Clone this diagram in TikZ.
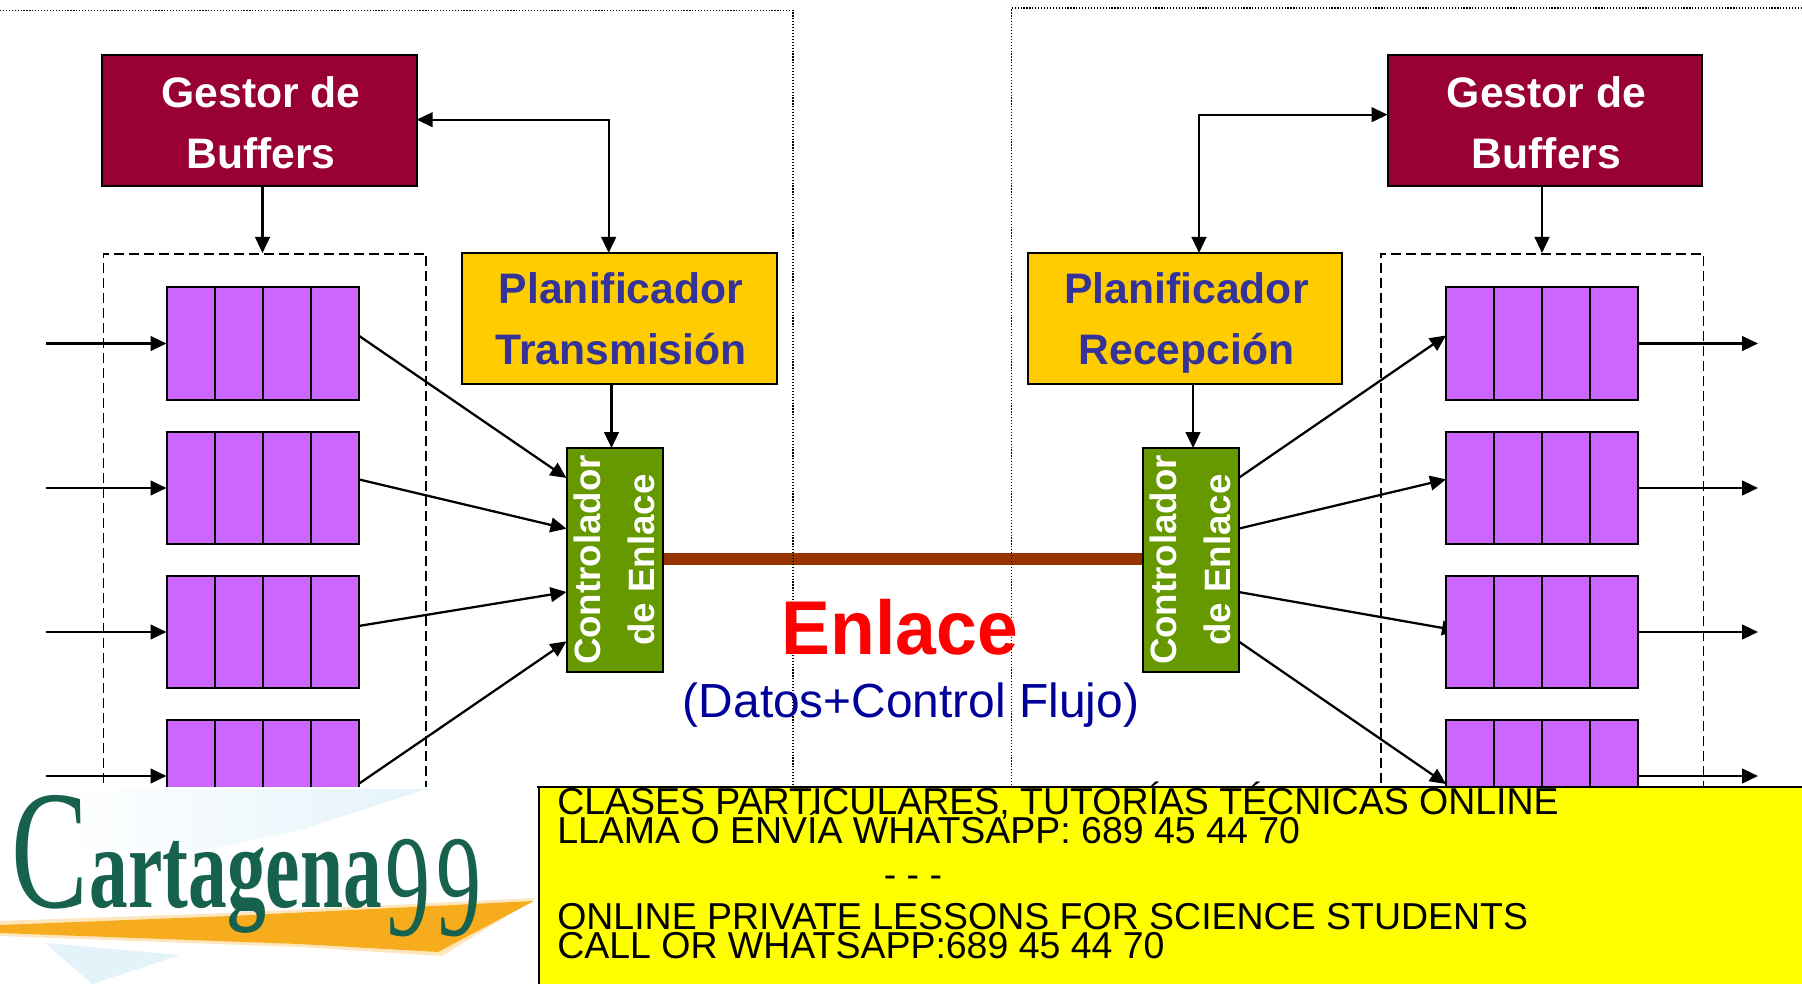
\documentclass[tikz,border=0pt]{standalone}
\usepackage{fontspec}
\setmainfont{Liberation Sans}
\newfontfamily\logofont{Liberation Serif}
\usetikzlibrary{arrows.meta,calc}
\pgfdeclarelayer{behind}
\pgfsetlayers{behind,main}
\newcommand{\nudgetext}{\hspace*{2.5pt}}
\definecolor{queuecol}{HTML}{CC66FF}
\definecolor{gestorcol}{HTML}{990033}
\definecolor{plancol}{HTML}{FFCC00}
\definecolor{ctrlcol}{HTML}{669900}
\definecolor{linkcol}{HTML}{993300}
\definecolor{plantext}{HTML}{333399}
\definecolor{subcol}{HTML}{000099}
\definecolor{logoteal}{HTML}{17614F}
\definecolor{logoorange}{HTML}{F7AC1E}
\definecolor{logoedge}{HTML}{FDE6BC}
\definecolor{logoblue}{HTML}{E4F3FA}
\definecolor{bannercol}{RGB}{255,255,0}
\definecolor{enlacecol}{RGB}{255,0,0}
\tikzset{
  x=0.75pt,y=-0.75pt,
  base/.style={draw=black,line width=1.5pt,inner sep=0pt,outer sep=0pt,anchor=north west},
  gestor/.style={base,fill=gestorcol,minimum width=236pt,minimum height=98.25pt,text=white,
    font=\fontsize{32}{45.7}\selectfont\bfseries,align=center},
  plan/.style={base,fill=plancol,minimum width=236pt,minimum height=98.25pt,text=plantext,
    font=\fontsize{32}{45.7}\selectfont\bfseries,align=center},
  ctrl/.style={base,fill=ctrlcol,minimum width=72pt,minimum height=168pt},
  ctrltext/.style={text=white,font=\fontsize{27.5}{41}\selectfont\bfseries,align=center,rotate=90,inner sep=0pt},
  queue/.style={base,fill=queuecol,minimum width=144pt,minimum height=84pt,
    path picture={\foreach \f in {.25,.5,.75}
      \draw[line width=1.5pt] ($(path picture bounding box.south west)!\f!(path picture bounding box.south east)$)
        -- ($(path picture bounding box.north west)!\f!(path picture bounding box.north east)$);}},
  dashbox/.style={draw=black,line width=1.2pt,dash pattern=on 7.5pt off 3.75pt,inner sep=0pt,anchor=north west,
    minimum width=242pt,minimum height=420pt},
  dotline/.style={draw=black,line width=0.8pt,dash pattern=on 0.9pt off 1.3pt},
  arr/.style={draw=black,line width=1.7pt,-{Triangle[length=12pt,width=11pt]}},
  twoway/.style={draw=black,line width=1.7pt,{Triangle[length=12pt,width=11pt]}-{Triangle[length=12pt,width=11pt]}},
  bann/.style={inner sep=0pt,anchor=base west,font=\fontsize{28.1}{28}\selectfont},
}
\begin{document}
\begin{tikzpicture}
\useasboundingbox (0,0) rectangle (1802,984);
% panels
\coordinate (pl0) at (0,10.5);
\coordinate (pl1) at (793,10.5);
\coordinate (pl2) at (793,800);
\coordinate (pr0) at (1802,8);
\coordinate (pr1) at (1011.5,8);
\coordinate (pr2) at (1011.5,800);
% dashed groups
\node[dashbox] (dl) at (102.5,253) {};
\node[dashbox] (dr) at (1380,253) {};
% boxes
\node[gestor] (gl) at (102,55.5) {\nudgetext\rule{0pt}{26.5pt}Gestor de\\\nudgetext Buffers};
\node[gestor] (gr) at (1387.5,55.5) {\nudgetext\rule{0pt}{26.5pt}Gestor de\\\nudgetext Buffers};
\node[plan] (pt) at (462,253) {\nudgetext Planificador\\\nudgetext Transmisión};
\node[plan] (pr) at (1027.5,253) {\nudgetext Planificador\\\nudgetext\smash{Recepción}};
\node[ctrl] (cl) at (566.5,448) {};
\node[ctrl] (cr) at (1142.5,448) {};
\node[ctrltext] (clt) at (cl.center) {Controlador\\de Enlace};
\node[ctrltext] (crt) at (cr.center) {Controlador\\de Enlace};
% queues
\node[queue] (l1) at (166.5,287.5) {};
\node[queue] (l2) at (166.5,432) {};
\node[queue] (l3) at (166.5,576) {};
\node[queue] (l4) at (166.5,720) {};
\node[queue] (r1) at (1446,287.5) {};
\node[queue] (r2) at (1446,432) {};
\node[queue] (r3) at (1446,576) {};
\node[queue] (r4) at (1446,720) {};
% free ends
\foreach \n/\yy in {1/343.5,2/488,3/632,4/776}{
  \coordinate (in\n) at (46,\yy);
  \coordinate (out\n) at (1758,\yy);
}
\begin{pgfonlayer}{behind}
  \fill[white] (0,0) rectangle (1802,984);
  \draw[line width=9pt,linkcol,line cap=butt] (cl.east|-0,558.5) -- (cr.west|-0,558.5);
  \draw[dotline] (pl0) -- (pl1) -- (pl2);
  \draw[dotline] (pr0) -- (pr1) -- (pr2);
  \draw[arr] ([yshift=-24pt]cr.east) -- ([xshift=9pt,yshift=1pt]r3.west);
\end{pgfonlayer}
% link text
\node[inner sep=0pt,anchor=base,text=enlacecol,font=\fontsize{55}{55}\selectfont\bfseries] (enl) at (900,654) {\scalebox{1}[1.04]{Enlace}};
\node[inner sep=0pt,anchor=base,text=subcol,font=\fontsize{35.9}{40}\selectfont] (dat) at (911,717) {(Datos+Control Flujo)};
% connectors
\draw[arr] (gl.south-|l1.north) -- (dl.north-|l1.north);
\draw[arr] (gr.south-|r1.north) -- (dr.north-|r1.north);
\draw[twoway] ([yshift=1pt]gl.east) -| ([xshift=-8pt]pt.north);
\draw[twoway] (pr.north-|1199,0) |- ([yshift=4.75pt]gr.west);
\draw[arr] (pt.south-|611.5,0) -- (cl.north-|611.5,0);
\draw[arr] (pr.south-|1193,0) -- (cr.north-|1193,0);
\foreach \n in {1,2,3,4}{
  \draw[arr] (in\n) -- (in\n-|l\n.west);
  \draw[arr] (out\n-|r\n.east) -- (out\n);
}
\draw[arr] ([yshift=6pt]l1.east) -- ([yshift=61.5pt]cl.west);
\draw[arr] ([yshift=6.5pt]l2.east) -- ([yshift=23.5pt]cl.west);
\draw[arr] ([yshift=4.5pt]l3.east) -- ([yshift=-24pt]cl.west);
\draw[arr] ([yshift=-6pt]l4.east) -- ([yshift=-61pt]cl.west);
\draw[arr] ([yshift=61.5pt]cr.east) -- ([yshift=6pt]r1.west);
\draw[arr] ([yshift=23.5pt]cr.east) -- ([yshift=6.5pt]r2.west);
\draw[arr] ([yshift=-61pt]cr.east) -- ([yshift=-6pt]r4.west);
% logo
\fill[white] (0,787) rectangle (539,984);
\shade[left color=white,right color=logoblue,shading angle=90] (60,789) -- (427,789) -- (300,830) -- (205,850) -- (60,850) -- cycle;
\fill[logoblue] (45,943) -- (92,984) -- (180,955) -- cycle;
\fill[logoedge] (0,921) -- (230,913) -- (536,898) -- (442,956) -- (300,947) -- (0,936) -- cycle;
\fill[logoorange] (0,925) -- (230,916) -- (534,901) -- (438,952) -- (300,944) -- (0,933) -- cycle;
\node[inner sep=0pt,anchor=base west,text=logoteal,font=\logofont] (logo) at (11,907)
 {\fontsize{127}{127}\selectfont\scalebox{.68}[1]{C}\hspace{1pt}{\bfseries\fontsize{88}{88}\selectfont\scalebox{.66}[1]{artagena}}\hspace{3pt}\fontsize{109}{109}\selectfont\raisebox{-21pt}{\scalebox{.62}[1]{9}}\hspace{4pt}\raisebox{-21pt}{\scalebox{.62}[1]{9}}};
% banner
\fill[bannercol] (539,787) rectangle (1802,984);
\draw[black,line width=1.5pt] (537,787) -- (1802,787);
\draw[black,line width=0.8pt] (539,787) -- (539,984);
\node[bann] (b1) at (557,814) {CLASES PARTICULARES, TUTORÍAS TÉCNICAS ONLINE};
\node[bann] (b2) at (557,843) {LLAMA O ENVÍA WHATSAPP: 689 45 44 70};
\node[bann,anchor=base] (b3) at (913,887) {- - -};
\node[bann] (b4) at (557,929) {ONLINE PRIVATE LESSONS FOR SCIENCE STUDENTS};
\node[bann] (b5) at (557,958) {CALL OR WHATSAPP:689 45 44 70};
\end{tikzpicture}
\end{document}
